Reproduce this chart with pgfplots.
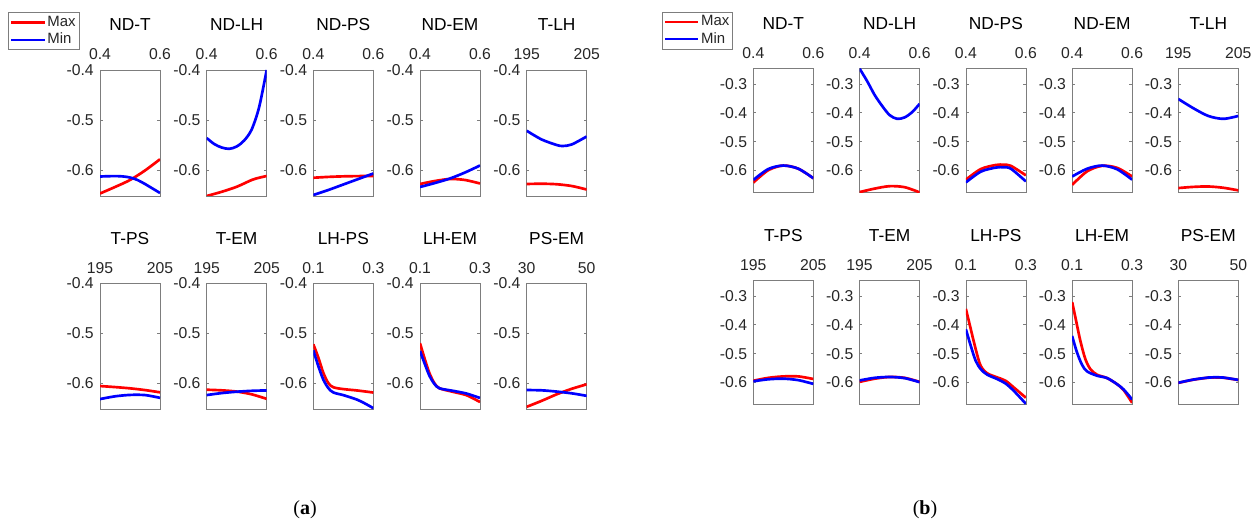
\documentclass[border=0pt]{standalone}
\usepackage{pgfplots}
\pgfplotsset{compat=1.18}
\usepackage{fontspec}
\setmainfont{Liberation Sans}
\newfontfamily\capfont{Liberation Serif}

\definecolor{framec}{RGB}{125,125,125}
\definecolor{tickc}{RGB}{38,38,38}
\newcommand\ticksize{\fontsize{11.8}{13}\selectfont}
\newcommand\titlesize{\fontsize{13}{14}\selectfont}

\pgfplotsset{
  cell/.style={
    scale only axis, width=45pt, anchor=north west,
    axis line style={framec, line width=0.55pt},
    every tick/.style={framec, line width=0.55pt},
    tick align=inside, major tick length=2pt,
    xticklabel pos=right,
    xticklabel style={anchor=base, yshift=7.5pt, inner sep=0pt, font=\ticksize, text=tickc},
    yticklabel style={anchor=east, inner sep=0pt, xshift=-4.5pt, font=\ticksize, text=tickc},
    title style={at={(0.5,1)}, anchor=base, yshift=23.25pt, inner sep=0pt, font=\titlesize, text=black},
    every axis plot/.append style={line width=2pt, smooth},
    legend image code/.code={\draw[#1, line width=1.6pt] (0pt,0pt) -- (25pt,0pt);},
    legend style={anchor=north west, draw=framec, line width=0.5pt,
      font=\fontsize{11.2}{12}\selectfont, text=tickc,
      inner xsep=1.2pt, inner ysep=1.2pt, row sep=0.6pt,
      nodes={inner sep=1.3pt, text height=7.8pt, text depth=2pt},
      cells={anchor=west}},
  },
  pa/.style={cell, height=94.5pt, ymin=-0.652, ymax=-0.4,
    ytick={-0.6,-0.5,-0.4}, yticklabels={-0.6,-0.5,-0.4}},
  pb/.style={cell, height=93pt, ymin=-0.677, ymax=-0.247,
    ytick={-0.6,-0.5,-0.4,-0.3}, yticklabels={-0.6,-0.5,-0.4,-0.3}},
  xnd/.style={xmin=0.4, xmax=0.6, xtick={0.4,0.6}, xticklabels={0.4,0.6}},
  xt/.style={xmin=195, xmax=205, xtick={195,205}, xticklabels={195,205}},
  xlh/.style={xmin=0.1, xmax=0.3, xtick={0.1,0.3}, xticklabels={0.1,0.3}},
  xps/.style={xmin=30, xmax=50, xtick={30,50}, xticklabels={30,50}},
  mx/.style={color=red},
  mn/.style={color=blue},
}

\begin{document}
\begin{tikzpicture}
\path[use as bounding box] (0,0) rectangle (942pt,-392.25pt);

% ---------------- (a) ----------------
\begin{axis}[pa, xnd, at={(75pt,-52.5pt)}, title={ND-T},
  legend style={at={(-1.528,1.458)}}]
\addplot[mx] coordinates {(0.4,-0.647) (0.45,-0.634) (0.5,-0.620) (0.55,-0.601) (0.6,-0.5785)};
\addplot[mn] coordinates {(0.4,-0.613) (0.425,-0.6125) (0.45,-0.6122) (0.475,-0.6128) (0.5,-0.615) (0.525,-0.620) (0.55,-0.628) (0.575,-0.637) (0.6,-0.646)};
\legend{Max,Min}
\end{axis}

\begin{axis}[pa, xnd, at={(155pt,-52.5pt)}, title={ND-LH}]
\addplot[mx] coordinates {(0.4,-0.652) (0.45,-0.6436) (0.5,-0.6336) (0.55,-0.620) (0.575,-0.6155) (0.6,-0.612)};
\addplot[mn] coordinates {(0.4,-0.536) (0.425,-0.548) (0.45,-0.555) (0.475,-0.5577) (0.5,-0.553) (0.525,-0.541) (0.55,-0.519) (0.575,-0.474) (0.6,-0.400)};
\end{axis}

\begin{axis}[pa, xnd, at={(235pt,-52.5pt)}, title={ND-PS}]
\addplot[mx] coordinates {(0.4,-0.6155) (0.45,-0.6138) (0.5,-0.6127) (0.55,-0.6122) (0.6,-0.612)};
\addplot[mn] coordinates {(0.4,-0.650) (0.45,-0.640) (0.5,-0.629) (0.55,-0.618) (0.6,-0.607)};
\end{axis}

\begin{axis}[pa, xnd, at={(315pt,-52.5pt)}, title={ND-EM}]
\addplot[mx] coordinates {(0.4,-0.628) (0.45,-0.622) (0.5,-0.618) (0.55,-0.620) (0.6,-0.627)};
\addplot[mn] coordinates {(0.4,-0.634) (0.45,-0.626) (0.5,-0.617) (0.55,-0.605) (0.6,-0.591)};
\end{axis}

\begin{axis}[pa, xt, at={(395pt,-52.5pt)}, title={T-LH}]
\addplot[mx] coordinates {(195,-0.628) (197.5,-0.6275) (200,-0.6285) (202.5,-0.632) (205,-0.639)};
\addplot[mn] coordinates {(195,-0.5215) (197.5,-0.539) (200,-0.550) (201,-0.552) (202.5,-0.549) (205,-0.533)};
\end{axis}

\begin{axis}[pa, xt, at={(75pt,-212.5pt)}, title={T-PS}]
\addplot[mx] coordinates {(195,-0.6054) (197.5,-0.6075) (200,-0.610) (202.5,-0.6135) (205,-0.618)};
\addplot[mn] coordinates {(195,-0.6315) (197.5,-0.626) (200,-0.6232) (202.5,-0.6235) (205,-0.629)};
\end{axis}

\begin{axis}[pa, xt, at={(155pt,-212.5pt)}, title={T-EM}]
\addplot[mx] coordinates {(195,-0.6128) (197.5,-0.614) (200,-0.6165) (202.5,-0.622) (205,-0.631)};
\addplot[mn] coordinates {(195,-0.6235) (197.5,-0.6195) (200,-0.6168) (202.5,-0.615) (205,-0.6142)};
\end{axis}

\begin{axis}[pa, xlh, at={(235pt,-212.5pt)}, title={LH-PS}]
\addplot[mx] coordinates {(0.1,-0.5218) (0.1169,-0.549) (0.1337,-0.5796) (0.1506,-0.600) (0.1674,-0.608) (0.2011,-0.6116) (0.2461,-0.6143) (0.3,-0.6184)};
\addplot[mn] coordinates {(0.1,-0.534) (0.1169,-0.566) (0.1337,-0.5932) (0.1506,-0.610) (0.1674,-0.6184) (0.2011,-0.6238) (0.2461,-0.6327) (0.2742,-0.641) (0.3,-0.6497)};
\end{axis}

\begin{axis}[pa, xlh, at={(315pt,-212.5pt)}, title={LH-EM}]
\addplot[mx] coordinates {(0.1,-0.5197) (0.1146,-0.549) (0.1315,-0.5796) (0.1483,-0.600) (0.1652,-0.610) (0.2101,-0.617) (0.255,-0.6238) (0.3,-0.6374)};
\addplot[mn] coordinates {(0.1,-0.5354) (0.1146,-0.559) (0.1315,-0.585) (0.1483,-0.6014) (0.1652,-0.610) (0.2101,-0.615) (0.255,-0.6204) (0.3,-0.6293)};
\end{axis}

\begin{axis}[pa, xps, at={(395pt,-212.5pt)}, title={PS-EM}]
\addplot[mx] coordinates {(30,-0.647) (35,-0.635) (40,-0.622) (45,-0.611) (50,-0.602)};
\addplot[mn] coordinates {(30,-0.6134) (35,-0.614) (40,-0.6165) (45,-0.620) (50,-0.625)};
\end{axis}

% ---------------- (b) ----------------
\begin{axis}[pb, xnd, at={(565pt,-51.5pt)}, title={ND-T},
  legend style={at={(-1.522,1.46)}}]
\addplot[mx] coordinates {(0.4,-0.642) (0.45,-0.599) (0.5,-0.583) (0.55,-0.594) (0.6,-0.627)};
\addplot[mn] coordinates {(0.4,-0.633) (0.45,-0.595) (0.5,-0.583) (0.55,-0.594) (0.6,-0.627)};
\legend{Max,Min}
\end{axis}

\begin{axis}[pb, xnd, at={(644.7pt,-51.5pt)}, title={ND-LH}]
\addplot[mx] coordinates {(0.4,-0.675) (0.45,-0.663) (0.5,-0.6545) (0.55,-0.658) (0.6,-0.676)};
\addplot[mn] coordinates {(0.4,-0.247) (0.425,-0.290) (0.45,-0.338) (0.475,-0.376) (0.5,-0.408) (0.525,-0.421) (0.55,-0.416) (0.575,-0.398) (0.6,-0.369)};
\end{axis}

\begin{axis}[pb, xnd, at={(724.4pt,-51.5pt)}, title={ND-PS}]
\addplot[mx] coordinates {(0.4,-0.632) (0.45,-0.595) (0.5,-0.581) (0.525,-0.580) (0.55,-0.584) (0.6,-0.617)};
\addplot[mn] coordinates {(0.4,-0.6415) (0.45,-0.604) (0.5,-0.590) (0.525,-0.589) (0.55,-0.594) (0.6,-0.638)};
\end{axis}

\begin{axis}[pb, xnd, at={(804.1pt,-51.5pt)}, title={ND-EM}]
\addplot[mx] coordinates {(0.4,-0.650) (0.45,-0.603) (0.5,-0.584) (0.55,-0.591) (0.6,-0.621)};
\addplot[mn] coordinates {(0.4,-0.621) (0.45,-0.594) (0.5,-0.583) (0.55,-0.596) (0.6,-0.632)};
\end{axis}

\begin{axis}[pb, xt, at={(883.7pt,-51.5pt)}, title={T-LH}]
\addplot[mx] coordinates {(195,-0.661) (197.5,-0.657) (200,-0.6556) (202.5,-0.660) (205,-0.669)};
\addplot[mn] coordinates {(195,-0.352) (197.5,-0.384) (200,-0.411) (202.5,-0.421) (205,-0.411)};
\end{axis}

\begin{axis}[pb, xt, at={(565pt,-210.5pt)}, title={T-PS}]
\addplot[mx] coordinates {(195,-0.594) (197.5,-0.584) (200,-0.579) (202.5,-0.579) (205,-0.588)};
\addplot[mn] coordinates {(195,-0.596) (197.5,-0.589) (200,-0.587) (202.5,-0.592) (205,-0.605)};
\end{axis}

\begin{axis}[pb, xt, at={(644.7pt,-210.5pt)}, title={T-EM}]
\addplot[mx] coordinates {(195,-0.598) (197.5,-0.587) (200,-0.581) (202.5,-0.584) (205,-0.598)};
\addplot[mn] coordinates {(195,-0.593) (197.5,-0.584) (200,-0.581) (202.5,-0.585) (205,-0.599)};
\end{axis}

\begin{axis}[pb, xlh, at={(724.4pt,-210.5pt)}, title={LH-PS}]
\addplot[mx] coordinates {(0.1,-0.3447) (0.1156,-0.4118) (0.1322,-0.4824) (0.1489,-0.5412) (0.1711,-0.5682) (0.2044,-0.5824) (0.2322,-0.594) (0.26,-0.6176) (0.3,-0.653)};
\addplot[mn] coordinates {(0.1,-0.4153) (0.1156,-0.4706) (0.1322,-0.5235) (0.1489,-0.553) (0.1711,-0.573) (0.2044,-0.5882) (0.2322,-0.6035) (0.26,-0.6294) (0.3,-0.674)};
\end{axis}

\begin{axis}[pb, xlh, at={(804.1pt,-210.5pt)}, title={LH-EM}]
\addplot[mx] coordinates {(0.1,-0.3212) (0.1101,-0.3706) (0.1268,-0.453) (0.1436,-0.5176) (0.1603,-0.553) (0.1827,-0.573) (0.2162,-0.5847) (0.2497,-0.6059) (0.272,-0.627) (0.3,-0.6706)};
\addplot[mn] coordinates {(0.1,-0.4388) (0.1156,-0.494) (0.1324,-0.5376) (0.1492,-0.5612) (0.1827,-0.5765) (0.2162,-0.5847) (0.2497,-0.606) (0.272,-0.6247) (0.3,-0.659)};
\end{axis}

\begin{axis}[pb, xps, at={(883.7pt,-210.5pt)}, title={PS-EM}]
\addplot[mx] coordinates {(30,-0.6015) (35,-0.5905) (40,-0.5835) (42,-0.5825) (45,-0.5835) (50,-0.5915)};
\addplot[mn] coordinates {(30,-0.601) (35,-0.590) (40,-0.583) (42,-0.582) (45,-0.583) (50,-0.591)};
\end{axis}

% sub-figure captions
\node[font=\capfont\fontsize{15}{17}\selectfont] at (228.75pt,-382.5pt) {(\textbf{a})};
\node[font=\capfont\fontsize{15}{17}\selectfont] at (693.75pt,-382.5pt) {(\textbf{b})};
\end{tikzpicture}
\end{document}
